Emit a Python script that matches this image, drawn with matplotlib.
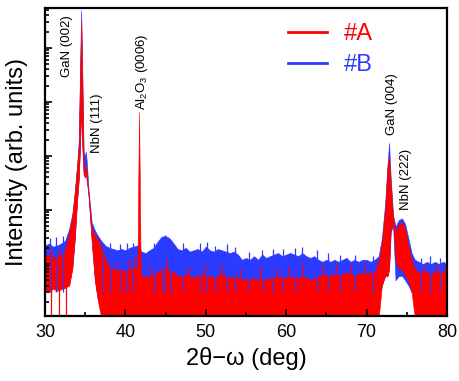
import matplotlib
matplotlib.use("Agg")
import matplotlib.pyplot as plt
from matplotlib.ticker import MultipleLocator, LogLocator, NullFormatter
from matplotlib.lines import Line2D

plt.rcParams['font.family'] = ['Liberation Sans', 'DejaVu Sans']

# 2theta grid (deg), denser around the peaks
two_theta = [
    30.0, 30.5, 31.0, 31.5, 32.0, 32.5, 33.0,
    33.4, 33.7, 34.0, 34.2, 34.35, 34.5, 34.65, 34.8, 34.95, 35.1, 35.25, 35.4, 35.8, 36.2, 36.6,
    37.0, 37.5, 38.0, 38.5, 39.0, 39.5, 40.0, 40.5, 41.0, 41.5,
    41.6, 41.7, 41.8, 41.9,
    42.0, 42.5, 43.0, 43.5, 44.0, 44.5, 45.0, 45.5, 46.0, 46.5, 47.0, 47.5, 48.0, 48.5, 49.0, 49.5, 50.0, 50.5, 51.0, 51.5,
    52.0, 52.5, 53.0, 53.5, 54.0, 54.5, 55.0, 55.5, 56.0, 56.5, 57.0, 57.5, 58.0, 58.5, 59.0, 59.5, 60.0, 60.5, 61.0, 61.5,
    62.0, 62.5, 63.0, 63.5, 64.0, 64.5, 65.0, 65.5, 66.0, 66.5, 67.0, 67.5, 68.0, 68.5, 69.0, 69.5, 70.0, 70.5, 71.0, 71.5,
    71.9, 72.3, 72.6, 72.8, 73.0, 73.3, 73.6, 74.0, 74.4, 74.8, 75.2, 75.6,
    76.0, 76.5, 77.0, 77.5, 78.0, 78.5, 79.0, 79.5, 80.0,
]

# sample #A : upper / lower edge of the noisy trace (counts)
a_top = [
    14, 15, 13, 14, 15, 18, 38,
    80, 207, 680, 1500, 25000, 330000, 20000, 900, 500, 650, 380, 207, 48, 34, 28,
    20, 13, 9, 8, 7.5, 8, 7.5, 8, 9, 9,
    300, 6500, 300, 9,
    6, 6, 5.5, 6.5, 7, 8, 8.5, 7.5, 7, 6, 6, 6.5, 6, 5.5, 6, 6.5, 6, 6, 5.5, 6,
    6.5, 6, 5.5, 6, 5.5, 5, 5.5, 5, 5.5, 5, 5.5, 5, 5.5, 6, 5.5, 6, 5.5, 5.5, 6, 5.5,
    6, 5.5, 5, 5.5, 6, 6, 6.5, 6, 6.5, 6, 6.5, 7, 6.5, 6, 6.5, 7, 6.5, 7, 7, 10,
    25, 100, 600, 1000, 300, 70, 40, 55, 60, 45, 22, 12,
    8, 7, 7.5, 7, 6.5, 7, 7.5, 7, 7,
]
a_bottom = [
    3.3, 3, 3.5, 3.2, 3.4, 3.6, 4,
    8, 28, 150, 350, 1400, 7000, 1400, 450, 400, 450, 300, 200, 28, 5, 2,
    1, 1, 1, 1, 1, 1, 1, 1, 1, 1,
    1, 1, 1, 1,
    1, 1, 1, 1, 1, 1, 1, 1, 1, 1, 1, 1, 1, 1, 1, 1, 1, 1, 1, 1,
    1, 1, 1, 1, 1, 1, 1, 1, 1, 1, 1, 1, 1, 1, 1, 1, 1, 1, 1, 1,
    1, 1, 1, 1, 1, 1, 1, 1, 1, 1, 1, 1, 1, 1, 1, 1, 1, 1, 1, 1,
    4, 6, 6, 8, 40, 60, 12, 8, 8, 6, 5, 3,
    1, 1, 1, 1, 1, 1, 1, 1, 1,
]

# sample #B
b_top = [
    22, 24, 21, 22, 24, 27, 45,
    85, 220, 700, 2000, 35000, 500000, 30000, 1300, 1000, 1200, 600, 250, 60, 42, 33,
    27, 22, 20, 19, 18, 19, 18, 20, 21, 22,
    20, 21, 20, 18,
    17, 16, 18, 20, 26, 32, 33, 30, 24, 19, 18, 20, 17, 18, 19, 17, 21, 18, 17, 19,
    18, 17, 16, 17, 15, 12, 13, 12, 14, 12, 15, 13, 14, 15, 16, 14, 15, 16, 15, 14,
    16, 14, 13, 14, 12, 11, 12, 11, 12, 11, 12, 13, 11, 12, 11, 12, 12, 11, 12, 14,
    30, 130, 700, 1740, 400, 80, 50, 65, 70, 55, 30, 16,
    12, 11, 10, 11, 10, 11, 10, 11, 10,
]
b_bottom = [
    4, 4, 4, 4, 4, 4, 4,
    9, 30, 160, 400, 1500, 8000, 1500, 500, 450, 500, 300, 200, 28, 5, 2,
    3, 3, 3, 3, 3, 3, 3, 3, 3, 3,
    3, 3, 3, 3,
    3, 3, 3, 3, 3, 3, 3, 3, 3, 3, 3, 3, 3, 3, 3, 3, 3, 3, 3, 3,
    3, 3, 3, 3, 3, 3, 3, 3, 3, 3, 3, 3, 3, 3, 3, 3, 3, 3, 3, 3,
    3, 3, 3, 3, 3, 3, 3, 3, 3, 3, 3, 3, 3, 3, 3, 3, 3, 3, 3, 3,
    4, 6, 6, 8, 40, 50, 5, 6, 6, 5, 4, 3,
    3, 3, 3, 3, 3, 3, 3, 3, 3,
]

# single noise spikes sticking out of the bands
b_spike_x = [30.6, 31.4, 32.3, 37.2, 38.1, 39.3, 40.2, 40.9, 43.6, 44.5, 44.9, 45.5, 47.2,
             49.3, 50.2, 51.1, 52.6, 53.6, 55.4, 57.0, 58.3, 59.6, 61.1, 62.0, 63.8, 65.2,
             66.7, 68.6, 70.8, 76.8, 77.9, 79.1]
b_spike_top = [30, 32, 33, 25, 24, 23, 24, 25, 25, 32, 34, 28, 24,
               24, 26, 22, 23, 21, 17, 18, 19, 19, 20, 21, 18, 16,
               15, 15, 14, 13, 14, 13]
a_spike_x = [30.8, 31.7, 32.6, 38.8, 40.4, 41.2, 43.1, 45.2, 47.8, 49.8, 51.9, 54.3,
             56.8, 58.9, 60.3, 62.0, 64.4, 66.2, 68.1, 69.7, 71.3, 77.2, 78.6, 79.6]
a_spike_top = [20, 19, 22, 11, 12, 14, 9, 12, 9, 10, 10, 8,
               9, 8.5, 9, 10, 9.5, 10, 9.5, 10, 11, 9, 10, 9]

# peak labels: text, 2theta, counts at label bottom
peak_names = ['GaN (002)', 'NbN (111)', r'Al$_\mathregular{2}$O$_\mathregular{3}$ (0006)', 'GaN (004)', 'NbN (222)']
peak_x = [32.7, 36.5, 42.1, 73.2, 74.9]
peak_y = [29000, 1150, 7000, 2450, 100]

red = '#ff0000'
blue = '#2b3bff'

fig = plt.figure(figsize=(4.6, 3.81), dpi=100)
ax = fig.add_axes([0.0978, 0.1706, 0.8739, 0.8084])

ax.fill_between(two_theta, b_bottom, b_top, color=blue, lw=0.4)
ax.vlines(b_spike_x, 3, b_spike_top, color=blue, lw=0.9)
ax.fill_between(two_theta, a_bottom, a_top, color=red, lw=0.4)
ax.vlines(a_spike_x, 1, a_spike_top, color=red, lw=0.9)

ax.set_yscale('log')
ax.set_xlim(30, 80)
ax.set_ylim(1.09, 5.5e5)

ax.xaxis.set_major_locator(MultipleLocator(10))
ax.xaxis.set_minor_locator(MultipleLocator(5))
ax.yaxis.set_major_locator(LogLocator(base=10))
ax.yaxis.set_minor_locator(LogLocator(base=10, subs=range(2, 10)))
ax.yaxis.set_major_formatter(NullFormatter())
ax.yaxis.set_minor_formatter(NullFormatter())
ax.tick_params(which='both', direction='in', top=False, right=False, width=1.2)
ax.tick_params(which='major', length=5, labelsize=13, pad=6)
ax.tick_params(which='minor', length=3)
for s in ax.spines.values():
    s.set_linewidth(1.6)

ax.set_xlabel('2θ−ω (deg)', fontsize=17, labelpad=4)
ax.set_ylabel('Intensity (arb. units)', fontsize=17, labelpad=6)

for name, px, py in zip(peak_names, peak_x, peak_y):
    ax.text(px, py, name, rotation=90, ha='center', va='bottom', fontsize=9.5)

handles = [Line2D([], [], color=red, lw=2), Line2D([], [], color=blue, lw=2)]
ax.legend(handles, ['#A', '#B'], loc='upper left', bbox_to_anchor=(0.575, 0.99),
          frameon=False, fontsize=17, handlelength=1.65, handletextpad=0.7,
          borderpad=0, labelspacing=0.4, labelcolor='linecolor')

fig.savefig('out.png', dpi=100)
